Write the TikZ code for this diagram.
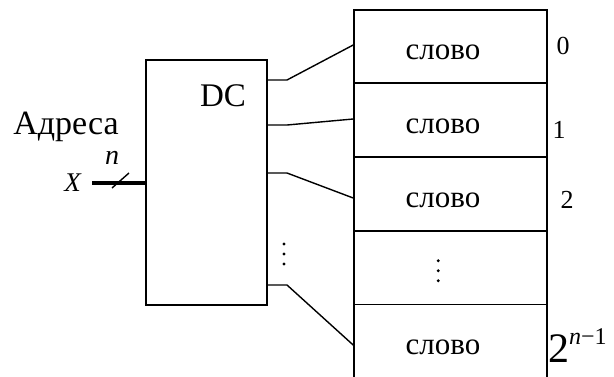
\documentclass[tikz,border=0pt]{standalone}
\usepackage{fontspec}
\setmainfont{Liberation Serif}
\begin{document}
\begin{tikzpicture}[x=1pt,y=-1pt,
  cell/.style={draw,line width=1.6pt,minimum width=193pt,minimum height=73.5pt,inner sep=0pt},
  word/.style={font=\fontsize{31}{34}\selectfont,inner sep=0pt},
  wire/.style={line width=1.4pt},
  dot/.style={circle,fill,inner sep=0pt,minimum size=3.2pt},
  big/.style={font=\fontsize{33}{36}\selectfont,inner sep=0pt},
  num/.style={font=\fontsize{26}{28}\selectfont,inner sep=0pt}]
\useasboundingbox (0,0) rectangle (614,376);
% decoder
\node[draw,line width=1.5pt,minimum width=121pt,minimum height=245pt,inner sep=0pt] (dc) at (206.5,182.5) {};
\node[big] (dclbl) at (223,96) {DC};
% memory cells
\node[cell] (m0) at (450.5,46.5) {};
\node[cell] (m1) at (450.5,120.2) {};
\node[cell] (m2) at (450.5,193.9) {};
\node[cell] (m3) at (450.5,267.6) {};
\node[cell] (m4) at (450.5,341.3) {};
\node[word] (w0) at (443,52) {слово};
\node[word] (w1) at (443,126) {слово};
\node[word] (w2) at (443,200) {слово};
\node[word] (w4) at (443,347) {слово};
\node[dot] (md1) at (438.3,260.7) {};
\node[dot] (md2) at (438.3,270.7) {};
\node[dot] (md3) at (438.3,280.7) {};
% address labels
\node[num] (a0) at (563,46) {0};
\node[num] (a1) at (559,130) {1};
\node[num] (a2) at (567,200) {2};
\node[anchor=base west,inner sep=0pt,font=\fontsize{42}{44}\selectfont] (a3) at (548,362) {2\raisebox{0.42em}{\fontsize{24}{26}\selectfont\textit{n}−1}};
% connectors
\coordinate (o1) at (dc.east |- 0,80);
\coordinate (o2) at (dc.east |- 0,125);
\coordinate (o3) at (dc.east |- 0,173);
\coordinate (o4) at (dc.east |- 0,285);
\coordinate (k1) at (287,80);
\coordinate (k2) at (287,125);
\coordinate (k3) at (287,173);
\coordinate (k4) at (287,285);
\coordinate (e1) at (m0.west |- 0,45);
\coordinate (e2) at (m1.west |- 0,119);
\coordinate (e3) at (m2.west |- 0,198);
\coordinate (e4) at (m4.west |- 0,345);
\draw[wire] (o1) -- (k1) -- (e1);
\draw[wire] (o2) -- (k2) -- (e2);
\draw[wire] (o3) -- (k3) -- (e3);
\draw[wire] (o4) -- (k4) -- (e4);
\node[dot] (dd1) at (284,244) {};
\node[dot] (dd2) at (284,254) {};
\node[dot] (dd3) at (284,264) {};
% input
\node[font=\fontsize{34}{36}\selectfont,inner sep=0pt] (adr) at (66,127) {Адреса};
\node[font=\fontsize{27}{30}\selectfont,inner sep=0pt] (xl) at (73,183) {\textit{X}};
\node[font=\fontsize{28}{30}\selectfont,inner sep=0pt] (nl) at (112,158) {\textit{n}};
\coordinate (xin) at (92,183);
\draw[line width=3.5pt] (xin) -- (xin -| dc.west);
\coordinate (s1) at (112,188);
\coordinate (s2) at (129,173);
\draw[line width=1.4pt] (s1) -- (s2);
\end{tikzpicture}
\end{document}
